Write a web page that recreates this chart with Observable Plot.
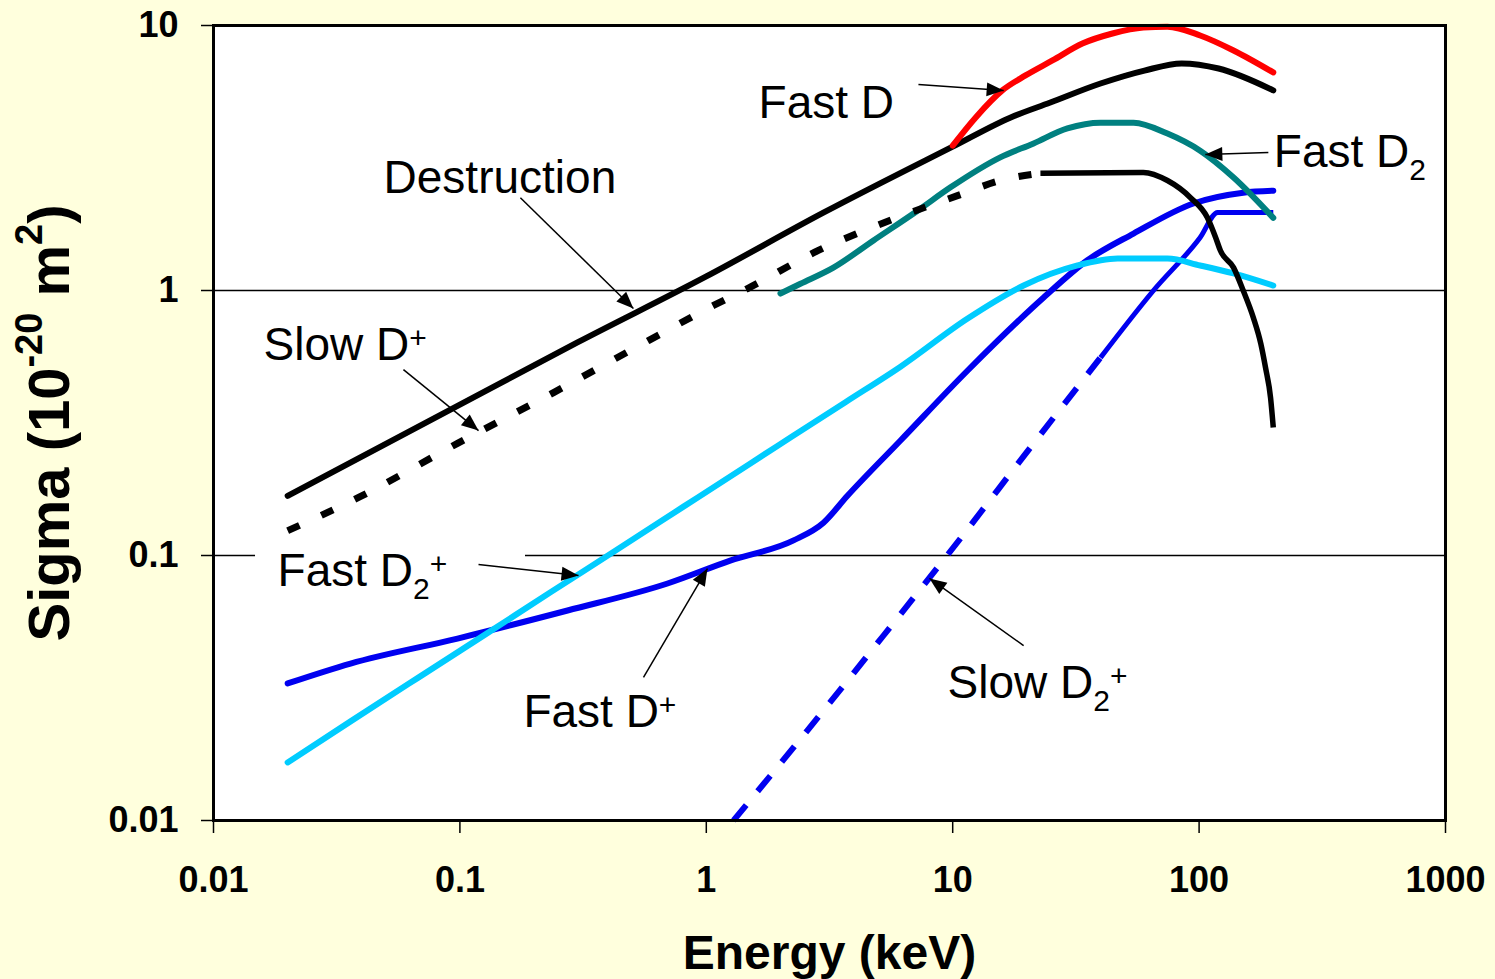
<!DOCTYPE html>
<html>
<head>
<meta charset="utf-8">
<script src="https://cdn.jsdelivr.net/npm/d3@7"></script>
<script src="https://cdn.jsdelivr.net/npm/@observablehq/plot@0.6"></script>
<style>
  html, body { margin: 0; padding: 0; background: #FFFFDD; }
  #chart svg { display: block; }
</style>
</head>
<body>
<div id="chart"></div>
<script>
const FONT = "'Liberation Sans', Arial, Helvetica, sans-serif";

// ---- Axes ----
const xTicks = [0.01, 0.1, 1, 10, 100, 1000];
const xTickLabels = ["0.01", "0.1", "1", "10", "100", "1000"];
const yTicks = [0.01, 0.1, 1, 10];
const yTickLabels = ["0.01", "0.1", "1", "10"];
const xTitle = "Energy (keV)";
const yTitleParts = [["Sigma (10", 0], ["-20", 1], [" m", 0], ["2", 1], [")", 0]];
const gridFull = [1];
const gridBroken = [0.1];
const gridGapE = [0.01481, 0.1846]; // gap left by the "Fast D2+" label box

// ---- Series (energy keV, sigma 1e-20 m^2) ----
const destructionE = [0.02, 0.1, 0.3, 1, 3, 10, 17.2, 24.9, 39.8, 60, 85, 120, 200];
const destructionS = [0.168, 0.371, 0.637, 1.13, 1.97, 3.49, 4.50, 5.12, 6.04, 6.76, 7.19, 6.88, 5.69];

const fastDE = [10, 12.4, 15.9, 19.75, 25.4, 33.6, 44.5, 59.4, 74.4, 101, 138, 200];
const fastDS = [3.52, 4.50, 5.69, 6.48, 7.38, 8.55, 9.33, 9.83, 9.90, 9.17, 8.05, 6.65];

const fastD2E = [2.0, 2.41, 3.28, 4.77, 7.2, 9.8, 15.6, 21.3, 29.2, 39.8, 54.2, 74.4, 101, 138, 200];
const fastD2S = [0.974, 1.06, 1.22, 1.545, 2.00, 2.45, 3.18, 3.59, 4.09, 4.30, 4.30, 3.91, 3.37, 2.67, 1.88];

const slowDpE = [0.02, 0.0388, 0.0978, 0.240, 0.582, 1.07, 1.47, 2.85, 5.97, 10.46, 15.6, 22.7, 59.4, 74.4, 92.3, 108, 116.7, 122, 138, 151, 166, 178, 186, 195, 200];
const slowDpS = [0.124, 0.1656, 0.265, 0.412, 0.647, 0.878, 1.017, 1.416, 1.885, 2.28, 2.60, 2.77, 2.79, 2.60, 2.24, 1.885, 1.585, 1.415, 1.22, 1.0, 0.79, 0.63, 0.512, 0.394, 0.304];

const fastDpE = [0.02, 0.036, 0.0978, 0.2735, 0.696, 1.25, 2.26, 2.99, 3.74, 6.14, 11.5, 23.4, 35.2, 54.2, 94.8, 151, 200];
const fastDpS = [0.0329, 0.0391, 0.0486, 0.062, 0.0784, 0.0957, 0.114, 0.133, 0.168, 0.2716, 0.499, 0.941, 1.30, 1.64, 2.13, 2.34, 2.38];

const fastD2pE = [0.02, 0.036, 0.0673, 0.1247, 0.2332, 0.4365, 0.808, 1.51, 2.196, 3.67, 6.14, 11.5, 19.4, 32.1, 46.7, 74.4, 101, 138, 200];
const fastD2pS = [0.01656, 0.02366, 0.03446, 0.04985, 0.0726, 0.1056, 0.1529, 0.2226, 0.2786, 0.379, 0.516, 0.784, 1.044, 1.243, 1.32, 1.32, 1.243, 1.16, 1.044];

const slowD2pE = [1.29, 2.575, 5.24, 10.36, 20.7, 39.8, 65.3, 101, 119, 200];
const slowD2pS = [0.01, 0.0219, 0.0499, 0.111, 0.256, 0.558, 1.0, 1.585, 1.97, 1.97];

// ---- Annotations ----
const labelMain = ["Fast D", "Fast D", "Destruction", "Slow D", "Fast D", "Fast D", "Slow D"];
const labelSub  = ["", "2", "", "", "2", "", "2"];
const labelSup  = ["", "", "", "+", "+", "+", "+"];
const labelE = [1.63, 201, 0.049, 0.01596, 0.0182, 0.181, 9.53];
const labelS = [4.495, 2.912, 2.343, 0.5445, 0.0764, 0.02244, 0.02887];

const arrowE1 = [7.26, 191, 0.176, 0.059, 0.119, 0.556, 19.4];
const arrowS1 = [5.99, 3.32, 2.24, 0.503, 0.0924, 0.0347, 0.0457];
const arrowE2 = [16.1, 106, 0.506, 0.119, 0.303, 1.011, 8.05];
const arrowS2 = [5.68, 3.26, 0.855, 0.296, 0.084, 0.0893, 0.0819];

// ---- Build tables ----
const rows = (E, S) => E.map((e, i) => ({E: e, S: S[i]}));
const destruction = rows(destructionE, destructionS);
const fastD = rows(fastDE, fastDS);
const fastD2 = rows(fastD2E, fastD2S);
const slowDp = rows(slowDpE, slowDpS);
const fastDp = rows(fastDpE, fastDpS);
const fastD2p = rows(fastD2pE, fastD2pS);
const slowD2p = rows(slowD2pE, slowD2pS);
const labels = labelMain.map((t, i) => ({t, E: labelE[i], S: labelS[i]}));
const arrows = arrowE1.map((e, i) => ({x1: e, y1: arrowS1[i], x2: arrowE2[i], y2: arrowS2[i]}));

const BLUE = "#0000F0";
const lineOpts = {x: "E", y: "S", strokeWidth: 6, strokeLinecap: "round", strokeLinejoin: "round", curve: "monotone-x"};

const chart = Plot.plot({
  width: 1495,
  height: 979,
  marginLeft: 213,
  marginRight: 50,
  marginTop: 25,
  marginBottom: 159,
  style: {background: "#FFFFDD", fontFamily: FONT, color: "black", overflow: "visible"},
  x: {type: "log", domain: [0.01, 1000]},
  y: {type: "log", domain: [0.01, 10]},
  marks: [
    Plot.frame({fill: "white"}),
    Plot.ruleY(gridFull, {stroke: "black", strokeWidth: 1.5}),
    Plot.ruleY(gridBroken, {x1: 0.01, x2: gridGapE[0], stroke: "black", strokeWidth: 1.5}),
    Plot.ruleY(gridBroken, {x1: gridGapE[1], x2: 1000, stroke: "black", strokeWidth: 1.5}),
    // curves
    Plot.line(slowD2p, {...lineOpts, filter: d => d.E <= 39.8, stroke: BLUE, strokeWidth: 6, strokeLinecap: "butt", strokeDasharray: "20,18"}),
    Plot.line(slowD2p, {...lineOpts, filter: d => d.E >= 39.8, stroke: BLUE, strokeWidth: 5, strokeLinecap: "butt"}),
    Plot.line(fastDp, {...lineOpts, stroke: BLUE}),
    Plot.line(fastD2p, {...lineOpts, stroke: "#00CCFF"}),
    Plot.line(fastD2, {...lineOpts, stroke: "#008080"}),
    Plot.line(slowDp, {...lineOpts, filter: d => d.E <= 22.7, stroke: "black", strokeWidth: 7, strokeLinecap: "butt", strokeDasharray: "13,24"}),
    Plot.line(slowDp, {...lineOpts, filter: d => d.E >= 22.7, stroke: "black", strokeWidth: 5.5, strokeLinecap: "butt"}),
    Plot.line(destruction, {...lineOpts, stroke: "black"}),
    Plot.line(fastD, {...lineOpts, stroke: "#FF0000"}),
    // annotations
    Plot.link(arrows, {x1: "x1", y1: "y1", x2: "x2", y2: "y2", stroke: "black", strokeWidth: 1.5, markerEnd: "arrow"}),
    Plot.text(labels, {x: "E", y: "S", text: "t", textAnchor: "start", lineAnchor: "bottom", fontSize: 46, fill: "black"}),
    // frame and axes
    Plot.frame({stroke: "black", strokeWidth: 3}),
    Plot.axisX(xTicks, {tickFormat: d => xTickLabels[xTicks.indexOf(d)], tickSize: 13, tickPadding: 33, fontSize: 36, fontWeight: "bold", strokeWidth: 1.5, label: null}),
    Plot.axisY(yTicks, {tickFormat: d => yTickLabels[yTicks.indexOf(d)], tickSize: 12, tickPadding: 23, fontSize: 36, fontWeight: "bold", strokeWidth: 1.5, label: null}),
    Plot.text([xTitle], {text: d => d, frameAnchor: "bottom", textAnchor: "middle", lineAnchor: "bottom", dy: 148, fontSize: 48, fontWeight: "bold", fill: "black"}),
    Plot.text([yTitleParts.map(p => p[0]).join("")], {text: d => d, frameAnchor: "left", textAnchor: "middle", lineAnchor: "bottom", rotate: -90, dx: -145, fontSize: 58, fontWeight: "bold", fill: "black"})
  ]
});

document.getElementById("chart").appendChild(chart);

// ---- Rich text (sub/superscripts) and filled arrowheads ----
const NS = "http://www.w3.org/2000/svg";
function addTspan(el, txt, size, dy) {
  const t = document.createElementNS(NS, "tspan");
  if (size) t.setAttribute("font-size", size);
  if (dy) t.setAttribute("dy", dy);
  t.textContent = txt;
  el.appendChild(t);
}
const texts = Array.from(chart.querySelectorAll("text"));
let k = 0;
for (const el of texts) {
  if (k < labelMain.length && el.textContent === labelMain[k]) {
    let shift = 0;
    if (labelSub[k]) { addTspan(el, labelSub[k], 30, 13); shift = 13; }
    if (labelSup[k]) { addTspan(el, labelSup[k], 30, -12 - shift); }
    k++;
  }
}
const yFull = yTitleParts.map(p => p[0]).join("");
const yt = texts.find(el => el.textContent === yFull);
if (yt) {
  yt.textContent = "";
  let level = 0;
  for (const [s, sup] of yTitleParts) {
    const target = sup ? -27 : 0;
    addTspan(yt, s, sup ? 38 : null, target - level);
    level = target;
  }
}
chart.querySelectorAll("marker").forEach(m => {
  m.setAttribute("markerUnits", "userSpaceOnUse");
  m.setAttribute("viewBox", "-18 -9 18 18");
  m.setAttribute("markerWidth", 18);
  m.setAttribute("markerHeight", 18);
  m.setAttribute("refX", 0);
  m.setAttribute("refY", 0);
  m.setAttribute("fill", "black");
  m.setAttribute("stroke", "none");
  m.setAttribute("overflow", "visible");
  while (m.firstChild) m.removeChild(m.firstChild);
  const p = document.createElementNS(NS, "path");
  p.setAttribute("d", "M0,0L-17,-7L-17,7Z");
  m.appendChild(p);
});
</script>
</body>
</html>
